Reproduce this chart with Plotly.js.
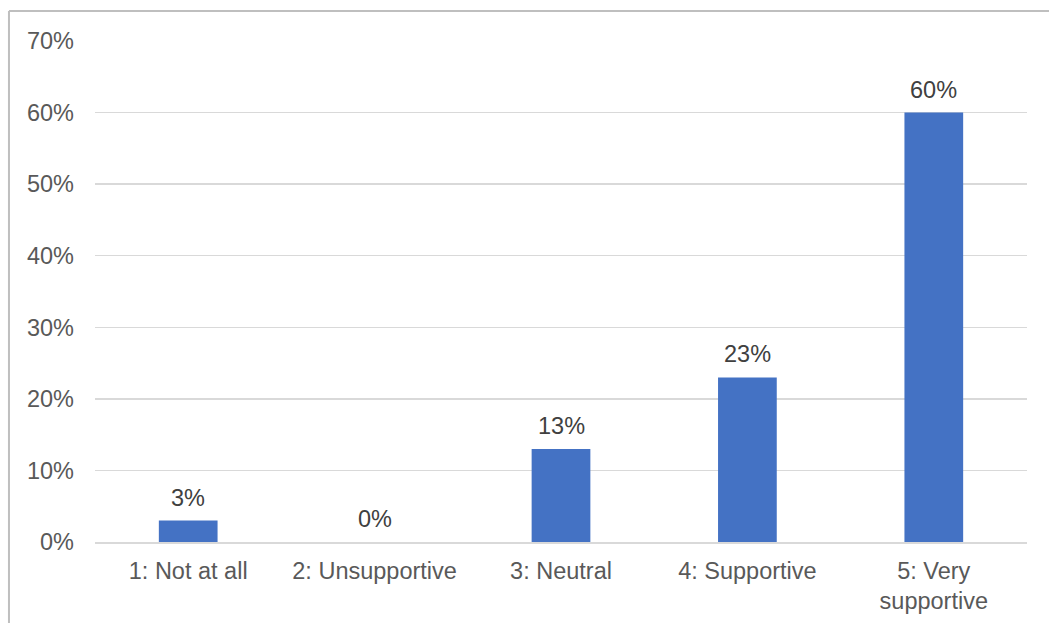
<!DOCTYPE html>
<html>
<head>
<meta charset="utf-8">
<script src="https://cdn.plot.ly/plotly-3.0.1.min.js"></script>
<style>html,body{margin:0;padding:0;background:#fff;}#chart{width:1049px;height:623px;}</style>
</head>
<body>
<div id="chart"></div>
<script>
const categories = ["1: Not at all", "2: Unsupportive", "3: Neutral", "4: Supportive", "5: Very<br>supportive"];
const values = [0.03, 0.00, 0.13, 0.23, 0.60];
const yTickVals = [0, 0.1, 0.2, 0.3, 0.4, 0.5, 0.6, 0.7];

const fontFamily = "Liberation Sans, Arial, sans-serif";
const textColor = "#595959";
const fontSize = 23.5;

const trace = {
  type: "bar",
  x: categories,
  y: values,
  marker: {color: "#4472C4"},
  hoverinfo: "skip"
};

const labelAnnotations = categories.map((c, i) => ({
  x: c,
  y: values[i],
  xref: "x",
  yref: "y",
  text: Math.round(values[i] * 100) + "%",
  showarrow: false,
  yanchor: "bottom",
  yshift: 8,
  font: {family: fontFamily, size: fontSize, color: "#404040"}
}));

const layout = {
  width: 1049,
  height: 623,
  margin: {l: 95, r: 22, t: 41, b: 81, pad: 0},
  paper_bgcolor: "#ffffff",
  plot_bgcolor: "#ffffff",
  showlegend: false,
  bargap: 0.685,
  font: {family: fontFamily, size: fontSize, color: textColor},
  xaxis: {
    type: "category",
    showgrid: false,
    showline: true,
    linecolor: "#d9d9d9",
    linewidth: 1.5,
    ticks: "",
    ticklabelstandoff: 7,
    tickfont: {family: fontFamily, size: fontSize, color: textColor},
    zeroline: false,
    fixedrange: true
  },
  yaxis: {
    range: [0, 0.7],
    tickvals: yTickVals,
    tickformat: ".0%",
    showgrid: true,
    gridcolor: "#d9d9d9",
    gridwidth: 1.5,
    zeroline: false,
    showline: false,
    ticks: "",
    ticklabelstandoff: 20,
    tickfont: {family: fontFamily, size: fontSize, color: textColor},
    fixedrange: true
  },
  annotations: labelAnnotations,
  shapes: [
    {type: "line", xref: "paper", yref: "paper", x0: -0.0923, x1: 1.03, y0: 1.0599, y1: 1.0599,
     line: {color: "#bfbfbf", width: 2}},
    {type: "line", xref: "paper", yref: "paper", x0: -0.0923, x1: -0.0923, y0: 1.0599, y1: -0.2,
     line: {color: "#bfbfbf", width: 2}}
  ]
};

Plotly.newPlot("chart", [trace], layout, {displayModeBar: false, staticPlot: true});
</script>
</body>
</html>
